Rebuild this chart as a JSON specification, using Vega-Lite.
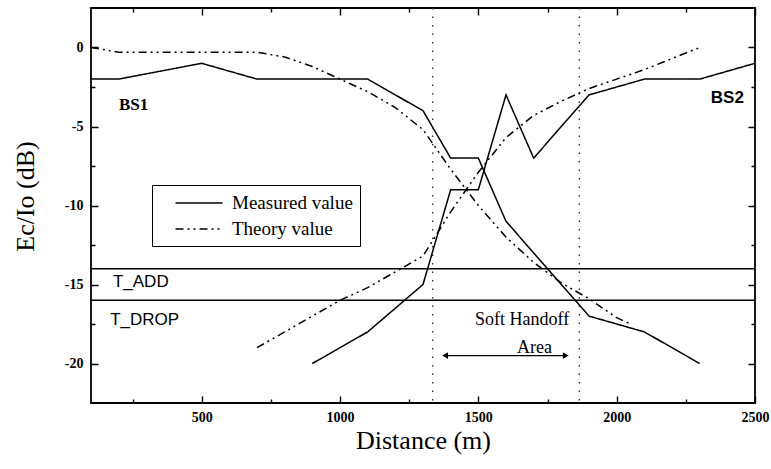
{
  "$schema": "https://vega.github.io/schema/vega-lite/v6.json",
  "width": 664,
  "height": 395,
  "autosize": "none",
  "padding": {"left": 91, "top": 8, "right": 16, "bottom": 66},
  "background": "white",
  "config": {
    "view": {"stroke": "black", "strokeWidth": 1.8},
    "axis": {
      "domain": false,
      "ticks": false,
      "tickSize": 0,
      "gridColor": "black",
      "gridOpacity": 1,
      "gridWidth": 1.4,
      "labelFont": "Liberation Serif",
      "labelFontWeight": "bold",
      "labelFontSize": 14,
      "labelColor": "black",
      "labelFlush": false,
      "titleFont": "Liberation Serif",
      "titleFontSize": 26,
      "titleFontWeight": "normal",
      "titleColor": "black"
    }
  },
  "datasets": {
    "curves": [
      {"d": 100, "v": -2, "series": "BS1 measured", "kind": "Measured value"},
      {"d": 200, "v": -2, "series": "BS1 measured", "kind": "Measured value"},
      {"d": 500, "v": -1, "series": "BS1 measured", "kind": "Measured value"},
      {"d": 700, "v": -2, "series": "BS1 measured", "kind": "Measured value"},
      {"d": 1100, "v": -2, "series": "BS1 measured", "kind": "Measured value"},
      {"d": 1300, "v": -4, "series": "BS1 measured", "kind": "Measured value"},
      {"d": 1400, "v": -7, "series": "BS1 measured", "kind": "Measured value"},
      {"d": 1500, "v": -7, "series": "BS1 measured", "kind": "Measured value"},
      {"d": 1600, "v": -11, "series": "BS1 measured", "kind": "Measured value"},
      {"d": 1900, "v": -17, "series": "BS1 measured", "kind": "Measured value"},
      {"d": 2100, "v": -18, "series": "BS1 measured", "kind": "Measured value"},
      {"d": 2300, "v": -20, "series": "BS1 measured", "kind": "Measured value"},

      {"d": 900, "v": -20, "series": "BS2 measured", "kind": "Measured value"},
      {"d": 1100, "v": -18, "series": "BS2 measured", "kind": "Measured value"},
      {"d": 1300, "v": -15, "series": "BS2 measured", "kind": "Measured value"},
      {"d": 1400, "v": -9, "series": "BS2 measured", "kind": "Measured value"},
      {"d": 1500, "v": -9, "series": "BS2 measured", "kind": "Measured value"},
      {"d": 1600, "v": -3, "series": "BS2 measured", "kind": "Measured value"},
      {"d": 1700, "v": -7, "series": "BS2 measured", "kind": "Measured value"},
      {"d": 1900, "v": -3, "series": "BS2 measured", "kind": "Measured value"},
      {"d": 2100, "v": -2, "series": "BS2 measured", "kind": "Measured value"},
      {"d": 2300, "v": -2, "series": "BS2 measured", "kind": "Measured value"},
      {"d": 2500, "v": -1, "series": "BS2 measured", "kind": "Measured value"},

      {"d": 100, "v": 0, "series": "BS1 theory", "kind": "Theory value"},
      {"d": 200, "v": -0.3, "series": "BS1 theory", "kind": "Theory value"},
      {"d": 500, "v": -0.3, "series": "BS1 theory", "kind": "Theory value"},
      {"d": 700, "v": -0.3, "series": "BS1 theory", "kind": "Theory value"},
      {"d": 800, "v": -0.6, "series": "BS1 theory", "kind": "Theory value"},
      {"d": 900, "v": -1.2, "series": "BS1 theory", "kind": "Theory value"},
      {"d": 1000, "v": -2, "series": "BS1 theory", "kind": "Theory value"},
      {"d": 1100, "v": -2.8, "series": "BS1 theory", "kind": "Theory value"},
      {"d": 1200, "v": -3.8, "series": "BS1 theory", "kind": "Theory value"},
      {"d": 1300, "v": -5.2, "series": "BS1 theory", "kind": "Theory value"},
      {"d": 1400, "v": -7.7, "series": "BS1 theory", "kind": "Theory value"},
      {"d": 1500, "v": -10, "series": "BS1 theory", "kind": "Theory value"},
      {"d": 1600, "v": -12, "series": "BS1 theory", "kind": "Theory value"},
      {"d": 1700, "v": -13.6, "series": "BS1 theory", "kind": "Theory value"},
      {"d": 1800, "v": -14.9, "series": "BS1 theory", "kind": "Theory value"},
      {"d": 1900, "v": -15.9, "series": "BS1 theory", "kind": "Theory value"},
      {"d": 2000, "v": -17.1, "series": "BS1 theory", "kind": "Theory value"},
      {"d": 2050, "v": -17.5, "series": "BS1 theory", "kind": "Theory value"},

      {"d": 700, "v": -19, "series": "BS2 theory", "kind": "Theory value"},
      {"d": 800, "v": -18, "series": "BS2 theory", "kind": "Theory value"},
      {"d": 900, "v": -17, "series": "BS2 theory", "kind": "Theory value"},
      {"d": 1000, "v": -16, "series": "BS2 theory", "kind": "Theory value"},
      {"d": 1100, "v": -15.2, "series": "BS2 theory", "kind": "Theory value"},
      {"d": 1200, "v": -14.2, "series": "BS2 theory", "kind": "Theory value"},
      {"d": 1300, "v": -13.2, "series": "BS2 theory", "kind": "Theory value"},
      {"d": 1350, "v": -11.8, "series": "BS2 theory", "kind": "Theory value"},
      {"d": 1400, "v": -10.4, "series": "BS2 theory", "kind": "Theory value"},
      {"d": 1500, "v": -7.9, "series": "BS2 theory", "kind": "Theory value"},
      {"d": 1600, "v": -5.7, "series": "BS2 theory", "kind": "Theory value"},
      {"d": 1700, "v": -4.3, "series": "BS2 theory", "kind": "Theory value"},
      {"d": 1800, "v": -3.4, "series": "BS2 theory", "kind": "Theory value"},
      {"d": 1900, "v": -2.6, "series": "BS2 theory", "kind": "Theory value"},
      {"d": 2000, "v": -2.0, "series": "BS2 theory", "kind": "Theory value"},
      {"d": 2100, "v": -1.4, "series": "BS2 theory", "kind": "Theory value"},
      {"d": 2200, "v": -0.7, "series": "BS2 theory", "kind": "Theory value"},
      {"d": 2300, "v": 0, "series": "BS2 theory", "kind": "Theory value"}
    ],
    "thresholds": [
      {"v": -14, "name": "T_ADD"},
      {"v": -16, "name": "T_DROP"}
    ],
    "handoffBounds": [
      {"d": 1335},
      {"d": 1865}
    ],
    "handoffArrow": [
      {"d": 1380, "d2": 1816, "v": -19.5}
    ],
    "notes": [
      {"d": 254, "v": -3.67, "text": "BS1"},
      {"d": 1658, "v": -17.25, "text": "Soft Handoff"},
      {"d": 1703, "v": -19.0, "text": "Area"},
      {"d": 2400, "v": -3.2, "text": "BS2"},
      {"d": 280, "v": -14.86, "text": "T_ADD"},
      {"d": 294, "v": -17.25, "text": "T_DROP"}
    ]
  },
  "resolve": {"axis": {"x": "independent", "y": "independent"}},
  "layer": [
    {
      "data": {"name": "thresholds"},
      "mark": {"type": "rule", "color": "black", "strokeWidth": 1.4},
      "encoding": {
        "y": {"field": "v", "type": "quantitative", "scale": {"domain": [-22.5, 2.5], "nice": false, "zero": false}, "axis": null}
      }
    },
    {
      "data": {"name": "handoffBounds"},
      "mark": {"type": "rule", "color": "#333333", "strokeWidth": 1.4, "strokeDash": [1.5, 7]},
      "encoding": {
        "x": {"field": "d", "type": "quantitative", "scale": {"domain": [100, 2500], "nice": false, "zero": false}, "axis": null}
      }
    },
    {
      "data": {"name": "curves"},
      "mark": {"type": "line", "color": "black", "strokeWidth": 1.5},
      "encoding": {
        "x": {
          "field": "d", "type": "quantitative",
          "scale": {"domain": [100, 2500], "nice": false, "zero": false},
          "axis": {
            "orient": "bottom",
            "values": [500, 1000, 1500, 2000, 2500],
            "format": "d",
            "grid": true,
            "gridDash": [7, 381, 7],
            "labelPadding": 7,
            "title": "Distance (m)",
            "titleY": 45,
            "titleBaseline": "alphabetic"
          }
        },
        "y": {
          "field": "v", "type": "quantitative",
          "scale": {"domain": [-22.5, 2.5], "nice": false, "zero": false},
          "axis": {
            "orient": "left",
            "values": [-20, -15, -10, -5, 0],
            "labelExpr": "replace(datum.label, '\u2212', '-')",
            "grid": true,
            "gridDash": [7, 650, 7],
            "labelPadding": 8,
            "title": "Ec/Io (dB)",
            "titleX": -66,
            "titleY": 188,
            "titleAngle": -90,
            "titleAlign": "center",
            "titleBaseline": "middle"
          }
        },
        "detail": {"field": "series", "type": "nominal"},
        "strokeDash": {
          "field": "kind", "type": "nominal",
          "scale": {"domain": ["Measured value", "Theory value"], "range": [[1, 0], [8, 4, 2, 4, 2, 4]]},
          "legend": {
            "title": null,
            "orient": "none",
            "legendX": 61,
            "legendY": 177,
            "symbolType": "M-2.35,0H2.35",
            "symbolSize": 400,
            "symbolStrokeWidth": 1.4,
            "symbolStrokeColor": "black",
            "symbolFillColor": "transparent",
            "symbolOffset": 29,
            "labelFont": "Liberation Serif",
            "labelFontSize": 19,
            "labelColor": "black",
            "labelOffset": 22,
            "rowPadding": 5,
            "padding": 7,
            "strokeColor": "black",
            "fillColor": "white",
            "cornerRadius": 0
          }
        }
      }
    },
    {
      "data": {"name": "handoffArrow"},
      "mark": {"type": "rule", "color": "black", "strokeWidth": 1.4},
      "encoding": {
        "x": {"field": "d", "type": "quantitative", "scale": {"domain": [100, 2500], "nice": false, "zero": false}, "axis": null},
        "x2": {"field": "d2"},
        "y": {"field": "v", "type": "quantitative", "scale": {"domain": [-22.5, 2.5], "nice": false, "zero": false}, "axis": null}
      }
    },
    {
      "data": {"name": "handoffArrow"},
      "mark": {"type": "point", "shape": "triangle-left", "filled": true, "color": "black", "size": 45, "opacity": 1},
      "encoding": {
        "x": {"field": "d", "type": "quantitative", "scale": {"domain": [100, 2500], "nice": false, "zero": false}, "axis": null},
        "y": {"field": "v", "type": "quantitative", "scale": {"domain": [-22.5, 2.5], "nice": false, "zero": false}, "axis": null}
      }
    },
    {
      "data": {"name": "handoffArrow"},
      "mark": {"type": "point", "shape": "triangle-right", "filled": true, "color": "black", "size": 45, "opacity": 1},
      "encoding": {
        "x": {"field": "d2", "type": "quantitative", "scale": {"domain": [100, 2500], "nice": false, "zero": false}, "axis": null},
        "y": {"field": "v", "type": "quantitative", "scale": {"domain": [-22.5, 2.5], "nice": false, "zero": false}, "axis": null}
      }
    },
    {
      "data": {"name": "notes"},
      "transform": [{"filter": "datum.text === 'BS1'"}],
      "mark": {"type": "text", "font": "Liberation Serif", "fontSize": 17, "fontWeight": "bold", "color": "black", "align": "center", "baseline": "middle"},
      "encoding": {
        "x": {"field": "d", "type": "quantitative", "scale": {"domain": [100, 2500], "nice": false, "zero": false}, "axis": null},
        "y": {"field": "v", "type": "quantitative", "scale": {"domain": [-22.5, 2.5], "nice": false, "zero": false}, "axis": null},
        "text": {"field": "text", "type": "nominal"}
      }
    },
    {
      "data": {"name": "notes"},
      "transform": [{"filter": "datum.text === 'Soft Handoff' || datum.text === 'Area'"}],
      "mark": {"type": "text", "font": "Liberation Serif", "fontSize": 18, "color": "black", "align": "center", "baseline": "middle"},
      "encoding": {
        "x": {
          "field": "d", "type": "quantitative",
          "scale": {"domain": [100, 2500], "nice": false, "zero": false},
          "axis": {"orient": "bottom", "values": [250, 750, 1250, 1750, 2250], "labels": false, "title": null, "grid": true, "gridDash": [4, 387, 4]}
        },
        "y": {
          "field": "v", "type": "quantitative",
          "scale": {"domain": [-22.5, 2.5], "nice": false, "zero": false},
          "axis": {"orient": "left", "values": [-17.5, -12.5, -7.5, -2.5], "labels": false, "title": null, "grid": true, "gridDash": [4, 656, 4]}
        },
        "text": {"field": "text", "type": "nominal"}
      }
    },
    {
      "data": {"name": "notes"},
      "transform": [{"filter": "datum.text === 'T_ADD' || datum.text === 'T_DROP'"}],
      "mark": {"type": "text", "font": "Liberation Sans", "fontSize": 17, "color": "black", "align": "center", "baseline": "middle"},
      "encoding": {
        "x": {"field": "d", "type": "quantitative", "scale": {"domain": [100, 2500], "nice": false, "zero": false}, "axis": null},
        "y": {"field": "v", "type": "quantitative", "scale": {"domain": [-22.5, 2.5], "nice": false, "zero": false}, "axis": null},
        "text": {"field": "text", "type": "nominal"}
      }
    },
    {
      "data": {"name": "notes"},
      "transform": [{"filter": "datum.text === 'BS2'"}],
      "mark": {"type": "text", "font": "Liberation Sans", "fontSize": 17, "fontWeight": "bold", "color": "black", "align": "center", "baseline": "middle"},
      "encoding": {
        "x": {"field": "d", "type": "quantitative", "scale": {"domain": [100, 2500], "nice": false, "zero": false}, "axis": null},
        "y": {"field": "v", "type": "quantitative", "scale": {"domain": [-22.5, 2.5], "nice": false, "zero": false}, "axis": null},
        "text": {"field": "text", "type": "nominal"}
      }
    }
  ]
}
